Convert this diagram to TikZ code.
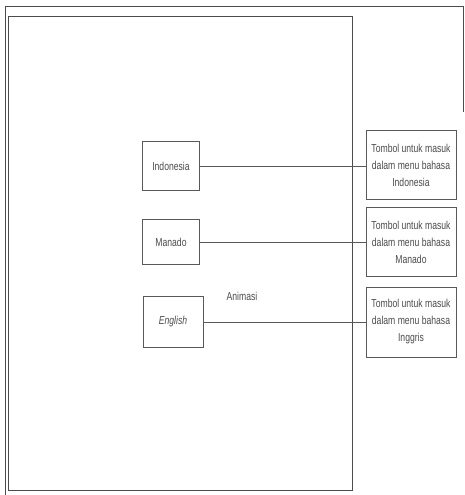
\documentclass[tikz,border=0pt]{standalone}
\usepackage{fontspec}
\setmainfont[FakeStretch=0.75]{Liberation Sans}
\begin{document}
\begin{tikzpicture}[x=1pt,y=-1pt,
  frame/.style={draw=black!70,line width=0.8pt},
  btn/.style={draw=black!65,line width=0.8pt,minimum width=57pt,minimum height=49pt,inner sep=0pt,font=\fontsize{11.5}{13}\selectfont,text=black!70},
  note/.style={draw=black!65,line width=0.8pt,minimum width=90pt,minimum height=69pt,inner sep=0pt,align=center,font=\fontsize{11.5}{17}\selectfont,text=black!70},
  link/.style={draw=black!65,line width=0.9pt}]
\useasboundingbox (0,0) rectangle (464,495);
\fill[white] (0,0) rectangle (464,495);
% outer frame
\draw[frame] (5,495) -- (5,6) -- (463,6) -- (463,112);
% inner frame
\draw[frame] (8,16) rectangle (352,490);
% buttons
\node[btn] (ind) at (171,166) {Indonesia};
\node[btn,minimum height=45pt] (man) at (171,242) {Manado};
\node[btn,minimum width=60pt,minimum height=51pt] (eng) at (173,322) {\textit{English}};
\node[font=\fontsize{11.5}{13}\selectfont,text=black!70] (anim) at (242,296) {Animasi};
% notes
\node[note] (n1) at (411,165) {Tombol untuk masuk\\dalam menu bahasa\\Indonesia};
\node[note] (n2) at (411,242) {Tombol untuk masuk\\dalam menu bahasa\\Manado};
\node[note,minimum height=70pt] (n3) at (411,322) {Tombol untuk masuk\\dalam menu bahasa\\Inggris};
% connectors
\draw[link] (ind.east) -- (n1.west |- ind.east);
\draw[link] (man.east) -- (n2.west |- man.east);
\draw[link] (eng.east) -- (n3.west |- eng.east);
\end{tikzpicture}
\end{document}
